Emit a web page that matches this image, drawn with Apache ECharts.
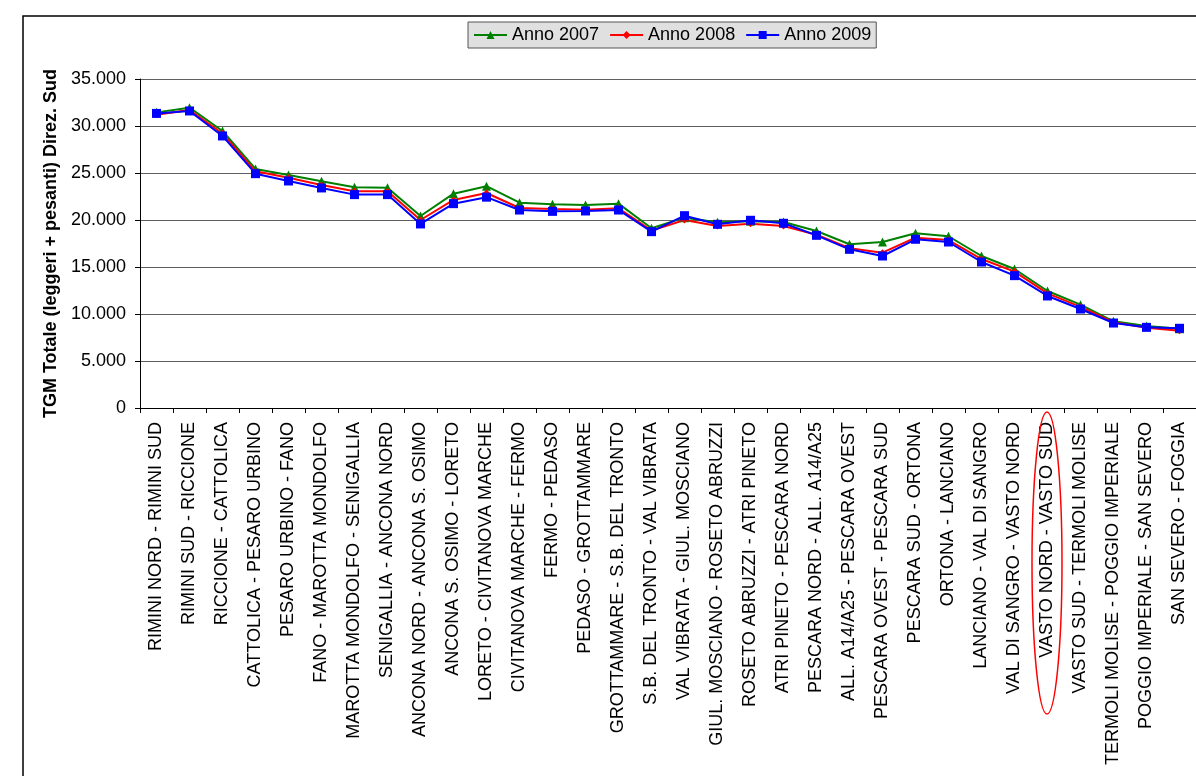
<!DOCTYPE html>
<html><head><meta charset="utf-8">
<script src="https://cdn.jsdelivr.net/npm/echarts@6/dist/echarts.min.js"></script>
<style>html,body{margin:0;padding:0;background:#fff}#c{width:1196px;height:776px}</style>
</head><body><div id="c"></div>
<script>
const categories = [
  'RIMINI NORD - RIMINI SUD','RIMINI SUD - RICCIONE','RICCIONE - CATTOLICA','CATTOLICA - PESARO URBINO',
  'PESARO URBINO - FANO','FANO - MAROTTA MONDOLFO','MAROTTA MONDOLFO - SENIGALLIA','SENIGALLIA - ANCONA NORD',
  'ANCONA NORD - ANCONA S. OSIMO','ANCONA S. OSIMO - LORETO','LORETO - CIVITANOVA MARCHE','CIVITANOVA MARCHE - FERMO',
  'FERMO - PEDASO','PEDASO - GROTTAMMARE','GROTTAMMARE - S.B. DEL TRONTO','S.B. DEL TRONTO - VAL VIBRATA',
  'VAL VIBRATA - GIUL. MOSCIANO','GIUL. MOSCIANO - ROSETO ABRUZZI','ROSETO ABRUZZI - ATRI PINETO','ATRI PINETO - PESCARA NORD',
  'PESCARA NORD - ALL. A14/A25','ALL. A14/A25 - PESCARA OVEST','PESCARA OVEST - PESCARA SUD','PESCARA SUD - ORTONA',
  'ORTONA - LANCIANO','LANCIANO - VAL DI SANGRO','VAL DI SANGRO - VASTO NORD','VASTO NORD - VASTO SUD',
  'VASTO SUD - TERMOLI MOLISE','TERMOLI MOLISE - POGGIO IMPERIALE','POGGIO IMPERIALE - SAN SEVERO','SAN SEVERO - FOGGIA'
];
const anno2007 = [31450,31950,29470,25430,24790,24120,23480,23440,20430,22800,23600,21840,21670,21600,21740,19120,20250,19750,19860,19790,18830,17420,17660,18590,18270,16170,14790,12450,10990,9220,8720,8440];
const anno2008 = [31200,31700,29200,25180,24500,23730,23050,23050,20000,22130,22870,21280,21170,21100,21240,18870,20000,19360,19610,19360,18440,16990,16520,18120,17870,15850,14510,12200,10750,9120,8540,8230];
const anno2009 = [31340,31600,28940,24930,24150,23410,22700,22700,19580,21740,22430,21060,20920,20960,21060,18760,20460,19540,19970,19650,18370,16880,16170,17950,17660,15530,14080,11920,10530,9040,8580,8480];
const seriesNames = ['Anno 2007','Anno 2008','Anno 2009'];
const yTicks = {min:0, max:35000, interval:5000};
const yAxisName = 'TGM Totale (leggeri + pesanti) Direz. Sud';

const FONT = '"Liberation Sans", Arial, sans-serif';
const chart = echarts.init(document.getElementById('c'));
function fmt(v){ return String(v).replace(/\B(?=(\d{3})+(?!\d))/g,'.'); }
function mk(name, data, color, symbol, size){
  return {name, type:'line', data, symbol, symbolSize:size, showSymbol:true,
    lineStyle:{color, width:2}, itemStyle:{color}, emphasis:{disabled:true}};
}
chart.setOption({
  animation:false,
  backgroundColor:'#fff',
  textStyle:{fontFamily:FONT},
  graphic:[
    {type:'rect', shape:{x:23, y:16, width:1200, height:800}, style:{fill:null, stroke:'#000', lineWidth:1.5}, silent:true, z:-1},
    {type:'ellipse', shape:{cx:1047, cy:563, rx:15, ry:151}, style:{fill:null, stroke:'#ff0000', lineWidth:1.5}, silent:true, z:100}
  ],
  legend:{
    left:468, top:22, padding:[4,5], itemGap:10, itemWidth:33, itemHeight:10,
    backgroundColor:'#e0e0e0', borderColor:'#555', borderWidth:1,
    textStyle:{fontSize:18, color:'#000', fontFamily:FONT},
    data:seriesNames
  },
  grid:{left:140, top:79, bottom:368, right:-10},
  xAxis:{
    type:'category', data:categories, boundaryGap:true,
    axisLine:{lineStyle:{color:'#000', width:1}},
    axisTick:{show:true, length:5, interval:0, lineStyle:{color:'#000'}},
    axisLabel:{rotate:90, interval:0, margin:14, fontSize:18, color:'#000', fontFamily:FONT},
    splitLine:{show:false}
  },
  yAxis:{
    type:'value', min:yTicks.min, max:yTicks.max, interval:yTicks.interval,
    name:yAxisName, nameLocation:'middle', nameGap:70, nameRotate:90,
    nameTextStyle:{fontSize:18, fontWeight:'bold', color:'#000', fontFamily:FONT},
    axisLine:{show:true, lineStyle:{color:'#000', width:1}},
    axisTick:{show:true, length:5, lineStyle:{color:'#000'}},
    axisLabel:{formatter:fmt, margin:14, fontSize:18, color:'#000', fontFamily:FONT},
    splitLine:{show:true, lineStyle:{color:'#606060', width:1}}
  },
  series:[
    mk(seriesNames[0], anno2007, '#008000', 'triangle', 9),
    mk(seriesNames[1], anno2008, '#ff0000', 'diamond', 7),
    mk(seriesNames[2], anno2009, '#0000ff', 'rect', 9)
  ]
});
</script></body></html>
